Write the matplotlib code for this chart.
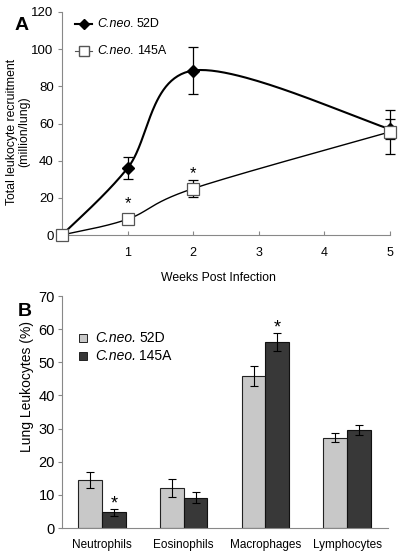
import numpy as np
import matplotlib
matplotlib.use("Agg")
import matplotlib.pyplot as plt
from matplotlib.lines import Line2D
from matplotlib.patches import Rectangle

plt.rcParams['font.family'] = ['Liberation Sans', 'DejaVu Sans']

# ---- Panel A data ----
weeks = [0, 1, 2, 5]
recr_52d = [0, 36, 88.5, 57]
err_52d = [0, 6, 12.5, 5.5]
recr_145a = [0, 8.5, 25, 55.5]
err_145a = [0, 1.5, 4.5, 12]
week_ticks = [1, 2, 3, 4, 5]
star_a_x = [1, 2]
star_a_y = [17, 33]

# ---- Panel B data ----
cells = ['Neutrophils', 'Eosinophils', 'Macrophages', 'Lymphocytes']
pct_52d = [14.5, 12.0, 45.8, 27.3]
pct_52d_err = [2.5, 2.7, 3.0, 1.3]
pct_145a = [4.7, 9.2, 56.0, 29.6]
pct_145a_err = [1.0, 1.8, 2.7, 1.5]
star_b_idx = [0, 2]

strain_it = 'C.neo.'
strains = ['52D', '145A']

W, H = 400, 559
fig = plt.figure(figsize=(W / 100, H / 100), dpi=100)

def smooth(xs, ys, sx, sy, n=60):
    P = np.column_stack([np.array(xs, float) * sx, np.array(ys, float) * sy])
    pts = []
    m = len(P)
    for i in range(m - 1):
        p0 = P[i - 1] if i > 0 else P[i]
        p1 = P[i]
        p2 = P[i + 1]
        p3 = P[i + 2] if i + 2 < m else P[i + 1]
        b1 = p1 + (p2 - p0) / 6.0
        b2 = p2 - (p3 - p1) / 6.0
        t = np.linspace(0, 1, n)[:, None]
        seg = ((1 - t) ** 3) * p1 + 3 * ((1 - t) ** 2) * t * b1 + 3 * (1 - t) * t ** 2 * b2 + t ** 3 * p2
        pts.append(seg)
    pts = np.vstack(pts)
    return pts[:, 0] / sx, pts[:, 1] / sy

def label(xpx, ypx, name, fs):
    t = fig.text(xpx / W, 1 - ypx / H, strain_it, fontsize=fs, style='italic', ha='left', va='center')
    fig.canvas.draw()
    bb = t.get_window_extent()
    fig.text(bb.x1 / W + 3 / W, 1 - ypx / H, name, fontsize=fs, ha='left', va='center')

spine_col = '#888888'

# ================= Panel A =================
axA = fig.add_axes([62 / W, 1 - 235 / H, 328 / W, 223 / H])
axA.set_xlim(0, 5)
axA.set_ylim(0, 120)
sx = 328 / 5.0
sy = 223 / 120.0
xs, ys = smooth(weeks, recr_52d, sx, sy)
axA.plot(xs, ys, color='black', lw=1.5, clip_on=False, zorder=3)
xs, ys = smooth(weeks, recr_145a, sx, sy)
axA.plot(xs, ys, color='black', lw=1.0, clip_on=False, zorder=3)
axA.errorbar(weeks, recr_52d, yerr=err_52d, fmt='none', ecolor='black', elinewidth=0.9, capsize=3.5, capthick=0.9, clip_on=False, zorder=4)
axA.errorbar(weeks, recr_145a, yerr=err_145a, fmt='none', ecolor='black', elinewidth=0.9, capsize=3.5, capthick=0.9, clip_on=False, zorder=4)
axA.plot(weeks, recr_52d, 'D', color='black', ms=6, clip_on=False, zorder=6)
axA.plot(weeks, recr_145a, 's', mfc='white', mec='#555555', mew=0.9, ms=9, clip_on=False, zorder=7)
for x, y in zip(star_a_x, star_a_y):
    axA.text(x, y, '*', ha='center', va='center', fontsize=12)
for s in ['top', 'right']:
    axA.spines[s].set_visible(False)
for s in ['left', 'bottom']:
    axA.spines[s].set_color(spine_col)
    axA.spines[s].set_linewidth(0.8)
axA.set_xticks(week_ticks)
axA.set_yticks(np.arange(0, 121, 20))
axA.tick_params(axis='x', direction='in', length=3, color=spine_col, labelsize=9, pad=9)
axA.tick_params(axis='y', direction='out', length=3, color=spine_col, labelsize=9.5, pad=3)
axA.set_xlabel('Weeks Post Infection', fontsize=8.8)
axA.xaxis.set_label_coords((218 - 62) / 328, -43 / 223)
axA.xaxis.label.set_va('center')
axA.set_ylabel('Total leukocyte recruitment\n(million/lung)', fontsize=8.8, linespacing=1.1)
axA.yaxis.set_label_coords(-44 / 328, (235 - 132) / 223)
axA.yaxis.label.set_va('center')

# legend A (manual)
fig.add_artist(Line2D([75 / W, 92 / W], [1 - 24 / H] * 2, color='black', lw=1.5))
fig.add_artist(Line2D([83.5 / W], [1 - 24 / H], marker='D', color='black', ms=5.5))
fig.add_artist(Line2D([75 / W, 92 / W], [1 - 51 / H] * 2, color='#555555', lw=0.8))
fig.add_artist(Line2D([83.5 / W], [1 - 51 / H], marker='s', mfc='white', mec='#555555', ms=7))
label(97, 24, strains[0], 9)
label(97, 51, strains[1], 9)
fig.text(15 / W, 1 - 26 / H, 'A', fontsize=14, fontweight='bold', ha='left', va='center')

# ================= Panel B =================
axB = fig.add_axes([62 / W, 1 - 528 / H, 326 / W, 232 / H])
x = np.arange(len(cells))
bw = 0.29
c1, c2 = '#c8c8c8', '#383838'
axB.bar(x - bw / 2, pct_52d, bw, color=c1, edgecolor='#222222', lw=0.8, zorder=2)
axB.bar(x + bw / 2, pct_145a, bw, color=c2, edgecolor='#111111', lw=0.8, zorder=2)
axB.errorbar(x - bw / 2, pct_52d, yerr=pct_52d_err, fmt='none', ecolor='black', elinewidth=0.8, capsize=3, capthick=0.8, zorder=3)
axB.errorbar(x + bw / 2, pct_145a, yerr=pct_145a_err, fmt='none', ecolor='black', elinewidth=0.8, capsize=3, capthick=0.8, zorder=3)
for i in star_b_idx:
    axB.text(x[i] + bw / 2, pct_145a[i] + pct_145a_err[i] + 1.6, '*', ha='center', va='center', fontsize=13)
axB.set_xlim(-0.49, 3.5)
axB.set_ylim(0, 70)
axB.set_yticks(np.arange(0, 71, 10))
axB.set_xticks(x)
axB.set_xticklabels(cells)
for s in ['top', 'right']:
    axB.spines[s].set_visible(False)
for s in ['left', 'bottom']:
    axB.spines[s].set_color(spine_col)
    axB.spines[s].set_linewidth(0.8)
axB.tick_params(axis='x', length=0, labelsize=8.5, pad=8)
axB.tick_params(axis='y', direction='out', length=3, color=spine_col, labelsize=10.5, pad=2)
axB.set_ylabel('Lung Leukocytes (%)', fontsize=10)
axB.yaxis.set_label_coords(-35 / 326, (528 - 386) / 232)
axB.yaxis.label.set_va('center')

# legend B (manual)
for ypx, col in [(338, c1), (356, c2)]:
    fig.add_artist(Rectangle((79 / W, 1 - (ypx + 4) / H), 8 / W, 8 / H, facecolor=col, edgecolor='#222222', lw=0.7))
label(95, 338, strains[0], 10)
label(95, 356, strains[1], 10)
fig.text(18 / W, 1 - 312 / H, 'B', fontsize=14, fontweight='bold', ha='left', va='center')

fig.savefig('out.png', dpi=100)
